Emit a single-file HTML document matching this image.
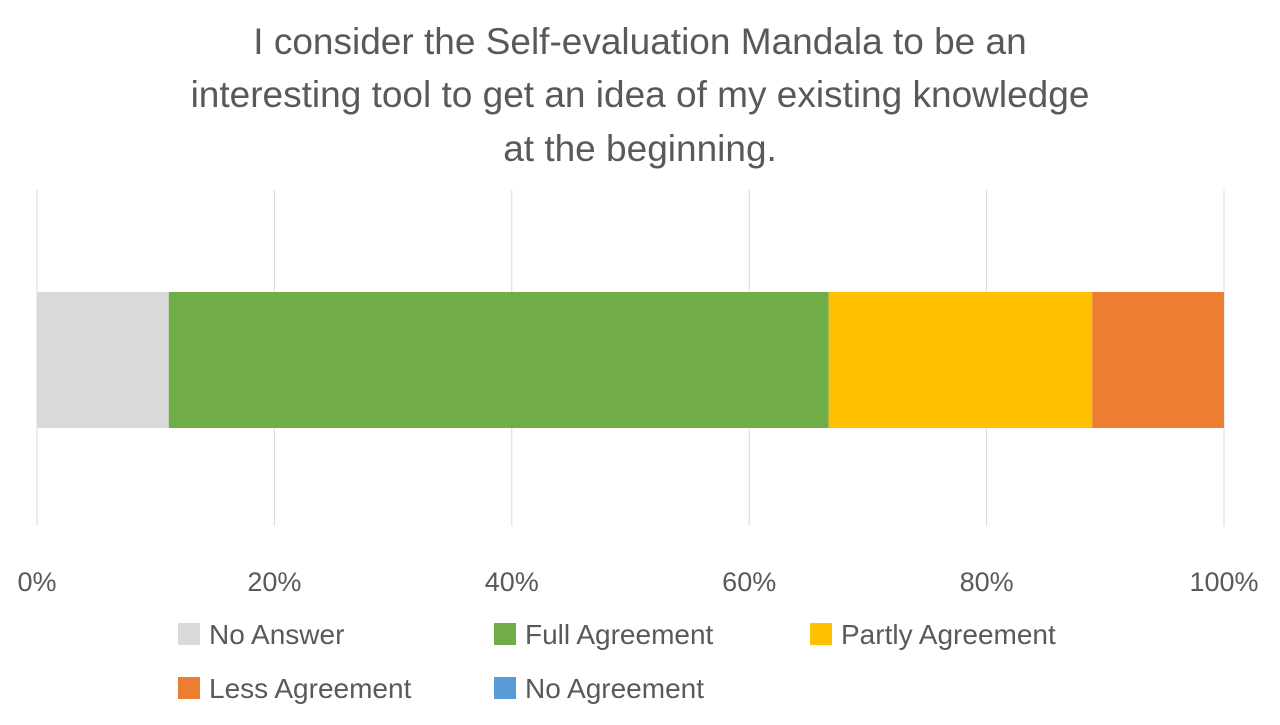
<!DOCTYPE html>
<html><head><meta charset="utf-8"><style>
body{margin:0;background:#fff;font-family:"Liberation Sans",sans-serif;}
svg text{font-family:"Liberation Sans",sans-serif;fill:#595959;}
</style></head><body>
<svg id="chart" width="1280" height="720">
<g>
<text x="640" y="54" font-size="37" text-anchor="middle">I consider the Self-evaluation Mandala to be an</text>
<text x="640" y="107" font-size="37" text-anchor="middle">interesting tool to get an idea of my existing knowledge</text>
<text x="640" y="161" font-size="37" text-anchor="middle">at the beginning.</text>
</g>
<g id="grid"></g>
<g id="bars"></g>
<g id="ticks"></g>
<g id="legend"></g>
</svg>
<script>
const seriesNames=["No Answer","Full Agreement","Partly Agreement","Less Agreement","No Agreement"];
const seriesValues=[11.1,55.6,22.2,11.1,0];
const seriesColors=["#d9d9d9","#70ad47","#ffc000","#ed7d31","#5b9bd5"];
const tickValues=[0,20,40,60,80,100];
const tickLabels=["0%","20%","40%","60%","80%","100%"];
const x0=37,x1=1224;
const xs=v=>x0+(x1-x0)*v/100;
const NS="http://www.w3.org/2000/svg";
function mk(t,a,p){const e=document.createElementNS(NS,t);for(const k in a)e.setAttribute(k,a[k]);p.appendChild(e);return e;}
const grid=document.getElementById('grid'),ticks=document.getElementById('ticks'),bars=document.getElementById('bars'),legend=document.getElementById('legend');
tickValues.forEach((v,i)=>{
 const l=mk('line',{x1:xs(v),x2:xs(v),y1:190,y2:526,stroke:'#d9d9d9','stroke-width':1},grid);
 
 
 const t=mk('text',{x:xs(v),y:591,'font-size':27,'text-anchor':'middle'},ticks);
 t.textContent=tickLabels[i];
 
 
});
const total=seriesValues.reduce((a,b)=>a+b,0);
let cum=0;
seriesValues.forEach((v,i)=>{
 const p=v/total*100;
 if(p>0){
  const r=mk('rect',{x:xs(cum),y:292,width:xs(cum+p)-xs(cum),height:136,fill:seriesColors[i]},bars);
  
  
 }
 cum+=p;
});
const legPos=[[178,634],[494,634],[810,634],[178,688],[494,688]];
seriesNames.forEach((n,i)=>{
 const [lx,ly]=legPos[i];
 const g=mk('g',{},legend);
 
 
 mk('rect',{x:lx,y:ly-11,width:22,height:22,fill:seriesColors[i]},g);
 const t=mk('text',{x:lx+31,y:ly+10,'font-size':28},g);
 t.textContent=n;
});
</script>
</body></html>
